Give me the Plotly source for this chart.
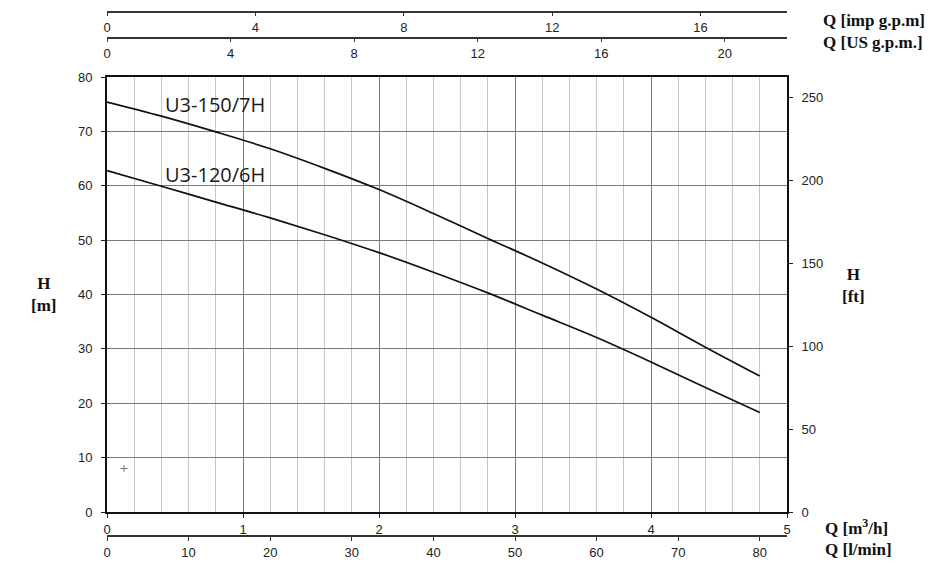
import plotly.graph_objects as go

# ---- data ----
q_m3h = [0, 0.4, 0.8, 1.2, 1.6, 2.0, 2.4, 2.8, 3.2, 3.6, 4.0, 4.4, 4.8]
h_150_7h = [75.4, 72.8, 69.9, 66.8, 63.2, 59.3, 54.9, 50.3, 45.8, 41.0, 35.8, 30.3, 25.0]
h_120_6h = [62.8, 59.9, 57.0, 54.1, 51.0, 47.7, 44.1, 40.3, 36.2, 32.1, 27.6, 22.9, 18.3]
curve_names = ["U3-150/7H", "U3-120/6H"]
label_pos_q = [0.42, 0.42]
label_pos_h = [74.9, 62.0]
point_q = [0.125]
point_h = [8]

ticks_m3h = [0, 1, 2, 3, 4, 5]
ticks_lmin = [0, 10, 20, 30, 40, 50, 60, 70, 80]
ticks_usgpm = [0, 4, 8, 12, 16, 20]
ticks_impgpm = [0, 4, 8, 12, 16]
ticks_m = [0, 10, 20, 30, 40, 50, 60, 70, 80]
ticks_ft = [0, 50, 100, 150, 200, 250]

Q_MAX = 5
H_MAX = 80
LMIN = 1000 / 60
USGPM = 1000 / 60 / 3.785411784
IMPGPM = 1000 / 60 / 4.54609
FT = 1 / 0.3048

# ---- geometry helpers (page px -> paper fraction) ----
W, Hpx = 930, 567
ML, MR, MT, MB = 107, 143, 8, 8
PW = W - ML - MR
PH = Hpx - MT - MB


def px(xp):
    return (xp - ML) / PW


def py(yp):
    return (Hpx - MB - yp) / PH


TICKFONT = dict(family="Liberation Sans Narrow, Arial Narrow, Liberation Sans, Arial", size=13, color="#222")
TITLEFONT = dict(family="Liberation Serif, Times New Roman, serif", size=17, color="#111")

fig = go.Figure()

series = [h_150_7h, h_120_6h]
for name, hs in zip(curve_names, series):
    fig.add_trace(go.Scatter(x=q_m3h, y=hs, mode="lines", name=name,
                             line=dict(color="#111", width=1.7, shape="spline"),
                             xaxis="x", yaxis="y", hoverinfo="skip"))
    # invisible copies to carry the secondary unit axes
    fig.add_trace(go.Scatter(x=[q * LMIN for q in q_m3h], y=hs, mode="lines",
                             line=dict(width=0), opacity=0, xaxis="x2", yaxis="y", hoverinfo="skip"))
    fig.add_trace(go.Scatter(x=[q * USGPM for q in q_m3h], y=hs, mode="lines",
                             line=dict(width=0), opacity=0, xaxis="x3", yaxis="y", hoverinfo="skip"))
    fig.add_trace(go.Scatter(x=[q * IMPGPM for q in q_m3h], y=hs, mode="lines",
                             line=dict(width=0), opacity=0, xaxis="x4", yaxis="y", hoverinfo="skip"))
    fig.add_trace(go.Scatter(x=q_m3h, y=[h * FT for h in hs], mode="lines",
                             line=dict(width=0), opacity=0, xaxis="x", yaxis="y2", hoverinfo="skip"))

fig.add_trace(go.Scatter(x=point_q, y=point_h, mode="markers",
                         marker=dict(symbol="cross-thin", size=5, line=dict(color="#777", width=1)),
                         xaxis="x", yaxis="y", hoverinfo="skip"))

ydom = [py(512), py(77)]

common_free = dict(ticks="outside", ticklen=4, tickcolor="#333", tickfont=TICKFONT,
                   showline=True, linecolor="#333", linewidth=1.5, showgrid=False,
                   zeroline=False, automargin=False, fixedrange=True)

fig.update_layout(
    width=W, height=Hpx, autosize=False,
    margin=dict(l=ML, r=MR, t=MT, b=MB, autoexpand=False),
    paper_bgcolor="white", plot_bgcolor="white",
    showlegend=False,
    xaxis=dict(range=[0, Q_MAX], tickvals=ticks_m3h, ticks="outside", ticklen=4,
               tickcolor="#222", tickfont=TICKFONT, showline=True, linecolor="#111",
               linewidth=2, mirror=True, showgrid=True, gridcolor="#7a7a7a", gridwidth=1,
               minor=dict(dtick=0.2, showgrid=True, gridcolor="#c8c8c8", gridwidth=1),
               zeroline=False, fixedrange=True, ticklabelstandoff=0, automargin=False),
    xaxis2=dict(overlaying="x", anchor="free", position=py(536), side="bottom",
                range=[0, Q_MAX * LMIN], tickvals=ticks_lmin, ticklabelstandoff=1, **common_free),
    xaxis3=dict(overlaying="x", anchor="free", position=py(37.7), side="bottom",
                range=[0, Q_MAX * USGPM], tickvals=ticks_usgpm, ticklabelstandoff=0, **common_free),
    xaxis4=dict(overlaying="x", anchor="free", position=py(11.7), side="bottom",
                range=[0, Q_MAX * IMPGPM], tickvals=ticks_impgpm, ticklabelstandoff=0, **common_free),
    yaxis=dict(domain=ydom, range=[0, H_MAX], tickvals=ticks_m, ticks="outside", ticklen=4,
               tickcolor="#222", tickfont=TICKFONT, showline=True, linecolor="#111",
               linewidth=2, showgrid=True, gridcolor="#7a7a7a", gridwidth=1,
               zeroline=False, fixedrange=True, ticklabelstandoff=6, automargin=False),
    yaxis2=dict(overlaying="y", side="right", anchor="x", range=[0, H_MAX * FT],
                tickvals=ticks_ft, ticks="outside", ticklen=4, tickcolor="#222",
                tickfont=TICKFONT, showline=True, linecolor="#111", linewidth=2,
                showgrid=False, zeroline=False, ticklabelstandoff=6, automargin=False,
                fixedrange=True),
)

ann = []
for name, lq, lh in zip(curve_names, label_pos_q, label_pos_h):
    ann.append(dict(x=lq, y=lh, xref="x", yref="y", text=name, showarrow=False,
                    xanchor="left", yanchor="middle", borderpad=0,
                    font=dict(family="Open Sans, Noto Sans, sans-serif", size=20, color="#1a1a1a")))

titles = [
    ("<b>Q [imp g.p.m]</b>", 821, 20),
    ("<b>Q [US g.p.m.]</b>", 821, 42.7),
    ("<b>Q [m<sup>3</sup>/h]</b>", 823, 527),
    ("<b>Q [l/min]</b>", 823, 549),
]
for t, xp, yp in titles:
    ann.append(dict(x=px(xp), y=py(yp), xref="paper", yref="paper", text=t, showarrow=False,
                    xanchor="left", yanchor="middle", font=TITLEFONT))

ann.append(dict(x=px(43), y=py(294), xref="paper", yref="paper", text="<b>H</b><br><b>[m]</b>",
                showarrow=False, xanchor="center", yanchor="middle", align="center", font=TITLEFONT))
ann.append(dict(x=px(853), y=py(285), xref="paper", yref="paper", text="<b>H</b><br><b>[ft]</b>",
                showarrow=False, xanchor="center", yanchor="middle", align="center", font=TITLEFONT))

fig.update_layout(annotations=ann)

fig.write_html("out.html", config={"responsive": False, "displayModeBar": False},
               post_script="document.body.style.margin='0';document.body.style.overflow='hidden';")
